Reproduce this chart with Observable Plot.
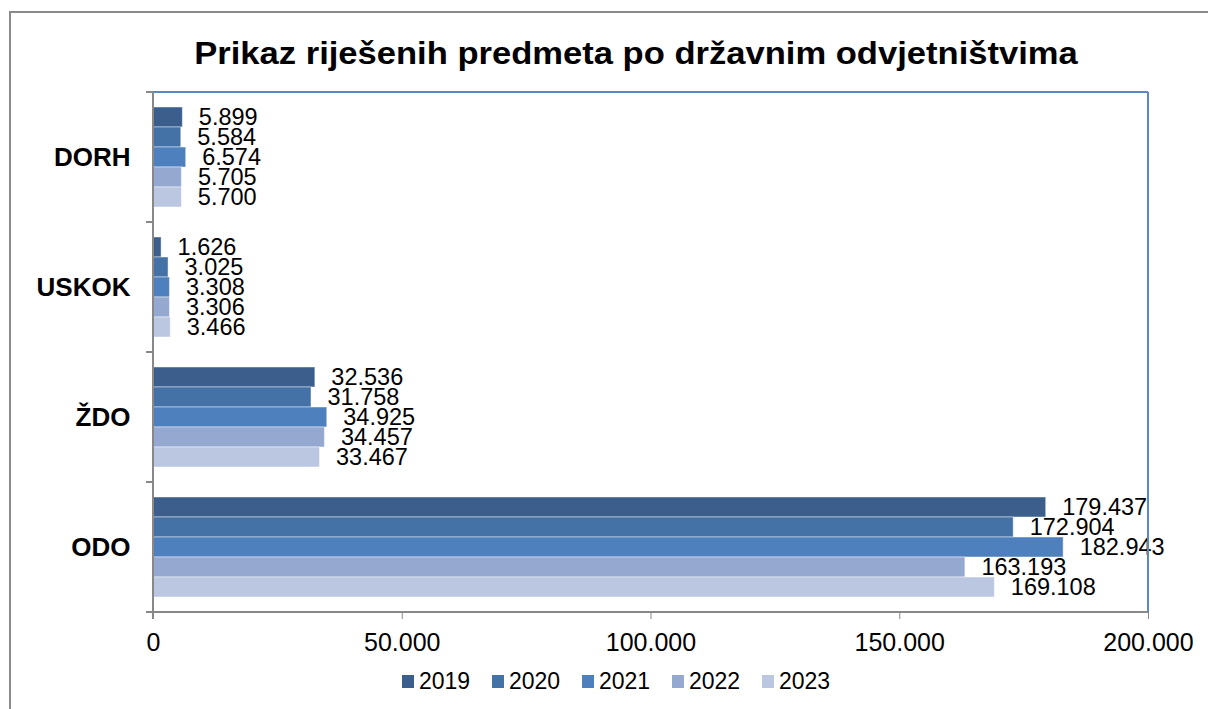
<!DOCTYPE html>
<html>
<head>
<meta charset="utf-8">
<script src="https://cdn.jsdelivr.net/npm/d3@7"></script>
<script src="https://cdn.jsdelivr.net/npm/@observablehq/plot@0.6"></script>
<style>
  html, body { margin: 0; padding: 0; background: #fff; overflow: hidden; }
  body { width: 1208px; height: 709px; position: relative; font-family: "Liberation Sans", Arial, sans-serif; }
  #frame { position: absolute; left: 9px; top: 11px; width: 1300px; height: 800px; border: 2px solid #8a8a8a; box-sizing: border-box; }
  #title { position: absolute; left: 0; width: 1272px; top: 35px; text-align: center; font-weight: bold; font-size: 32px; color: #000; transform: scaleX(1.08); transform-origin: 636px 0; }
  #chart { position: absolute; left: 0; top: 80px; }
  #legend { position: absolute; top: 668px; left: 402px; display: flex; font-size: 23px; color: #000; }
  .item { display: flex; align-items: center; width: 90px; }
  .sw { width: 12px; height: 13px; margin-right: 5px; }
</style>
</head>
<body>
<div id="frame"></div>
<div id="title">Prikaz riješenih predmeta po državnim odvjetništvima</div>
<div id="chart"></div>
<div id="legend"></div>
<script>
const categories = ["DORH", "USKOK", "ŽDO", "ODO"];
const years = ["2019", "2020", "2021", "2022", "2023"];
const colors = ["#3b5e8c", "#4471a6", "#4e80bd", "#95a9d0", "#bbc7e1"];
const values2019 = [5899, 1626, 32536, 179437];
const values2020 = [5584, 3025, 31758, 172904];
const values2021 = [6574, 3308, 34925, 182943];
const values2022 = [5705, 3306, 34457, 163193];
const values2023 = [5700, 3466, 33467, 169108];
const xTicks = [0, 50000, 100000, 150000, 200000];

const series = [values2019, values2020, values2021, values2022, values2023];
const data = [];
categories.forEach((c, i) => years.forEach((y, j) => data.push({cat: c, year: y, value: series[j][i]})));
const catData = categories.map(c => ({cat: c}));

const fmt = d3.formatLocale({decimal: ",", thousands: ".", grouping: [3], currency: ["", ""]}).format(",d");

const W = 1208, mL = 153, mR = 60, mT = 12, mB = 48, H = 580;

const plot = Plot.plot({
  width: W, height: H,
  marginLeft: mL, marginRight: mR, marginTop: mT, marginBottom: mB,
  style: {fontFamily: "Liberation Sans, Arial, sans-serif", fontSize: "24px", color: "#000", background: "transparent"},
  x: {domain: [0, 200000], ticks: xTicks, tickFormat: fmt, tickSize: 7, tickPadding: 14, label: null},
  y: {domain: years, paddingInner: 0, paddingOuter: 0.75, axis: null},
  fy: {domain: categories, padding: 0, axis: null, label: null},
  color: {domain: years, range: colors},
  marks: [
    Plot.barX(data, {x: "value", y: "year", fy: "cat", fill: "year", stroke: "#ffffff", strokeOpacity: 0.45, strokeWidth: 1}),
    Plot.text(data, {x: "value", y: "year", fy: "cat", text: d => fmt(d.value), textAnchor: "start", dx: 16, fontSize: 23.5, fill: "#000"}),
    Plot.text(catData, {fy: "cat", text: "cat", frameAnchor: "left", textAnchor: "end", dx: -23, fontSize: 26, fontWeight: "bold", fill: "#000"})
  ]
});
document.getElementById("chart").appendChild(plot);

const svg = d3.select(plot);
svg.selectAll('g[aria-label^="x-axis"]').attr("color", "#888");
svg.selectAll('g[aria-label^="x-axis"] text').attr("fill", "#000").attr("font-size", 25);

// plot-area borders and category boundary ticks
const x0 = mL, x1 = W - mR, y0 = mT, y1 = H - mB;
const g = svg.append("g");
g.append("line").attr("x1", x0).attr("x2", x1).attr("y1", y0).attr("y2", y0).attr("stroke", "#5b87c5").attr("stroke-width", 2);
g.append("line").attr("x1", x1).attr("x2", x1).attr("y1", y0).attr("y2", y1).attr("stroke", "#5b87c5").attr("stroke-width", 2);
g.append("line").attr("x1", x0).attr("x2", x0).attr("y1", y0).attr("y2", y1 + 7).attr("stroke", "#888").attr("stroke-width", 2);
g.append("line").attr("x1", x0 - 7).attr("x2", x1).attr("y1", y1).attr("y2", y1).attr("stroke", "#888").attr("stroke-width", 2);
const step = (y1 - y0) / categories.length;
for (let i = 0; i < categories.length; i++) {
  g.append("line").attr("x1", x0 - 7).attr("x2", x0).attr("y1", y0 + i * step).attr("y2", y0 + i * step).attr("stroke", "#888").attr("stroke-width", 2);
}

const legend = document.getElementById("legend");
years.forEach((y, i) => {
  const it = document.createElement("div"); it.className = "item";
  const sw = document.createElement("div"); sw.className = "sw"; sw.style.background = colors[i];
  const t = document.createElement("span"); t.textContent = y;
  it.appendChild(sw); it.appendChild(t); legend.appendChild(it);
});
</script>
</body>
</html>
